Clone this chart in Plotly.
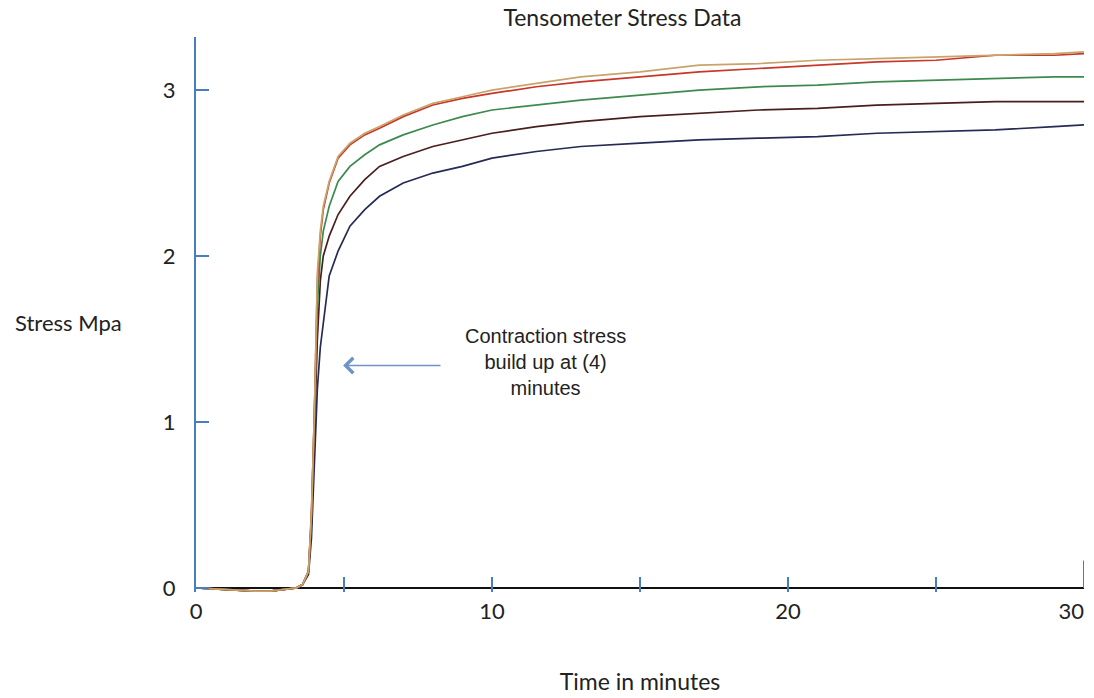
import plotly.graph_objects as go

# Time in minutes (sample points)
time_min = [0, 1, 2, 2.5, 3, 3.4, 3.6, 3.8, 3.9, 4.0, 4.1, 4.2, 4.3, 4.5, 4.8, 5.2,
            5.7, 6.2, 7, 8, 9, 10, 11.5, 13, 15, 17, 19, 21, 23, 25, 27, 29, 30]

stress_tan = [0.0, -0.01, -0.02, -0.02, -0.01, 0.0, 0.02, 0.1, 0.45, 1.05, 1.9, 2.15, 2.3,
              2.45, 2.6, 2.68, 2.74, 2.78, 2.85, 2.92, 2.96, 3.0, 3.04, 3.08, 3.11, 3.15,
              3.16, 3.18, 3.19, 3.20, 3.21, 3.22, 3.23]
stress_red = [0.0, -0.01, -0.02, -0.02, -0.01, 0.0, 0.02, 0.1, 0.45, 1.05, 1.85, 2.12, 2.28,
              2.44, 2.59, 2.67, 2.73, 2.77, 2.84, 2.91, 2.95, 2.98, 3.02, 3.05, 3.08, 3.11,
              3.13, 3.15, 3.17, 3.18, 3.21, 3.21, 3.22]
stress_green = [0.0, -0.01, -0.02, -0.02, -0.01, 0.0, 0.02, 0.1, 0.42, 1.0, 1.7, 2.0, 2.15,
                2.3, 2.45, 2.54, 2.61, 2.67, 2.73, 2.79, 2.84, 2.88, 2.91, 2.94, 2.97, 3.0,
                3.02, 3.03, 3.05, 3.06, 3.07, 3.08, 3.08]
stress_maroon = [0.0, -0.01, -0.02, -0.02, -0.01, 0.0, 0.02, 0.1, 0.4, 0.95, 1.5, 1.85, 2.0,
                 2.12, 2.25, 2.36, 2.46, 2.54, 2.6, 2.66, 2.70, 2.74, 2.78, 2.81, 2.84, 2.86,
                 2.88, 2.89, 2.91, 2.92, 2.93, 2.93, 2.93]
stress_navy = [0.0, -0.01, -0.02, -0.02, -0.01, 0.0, 0.02, 0.08, 0.3, 0.8, 1.2, 1.45, 1.6,
               1.88, 2.03, 2.18, 2.28, 2.36, 2.44, 2.50, 2.54, 2.59, 2.63, 2.66, 2.68, 2.70,
               2.71, 2.72, 2.74, 2.75, 2.76, 2.78, 2.79]

series = [
    ("Sample 5", stress_navy, "#262a55"),
    ("Sample 4", stress_maroon, "#4a1e1e"),
    ("Sample 3", stress_green, "#3d8a4e"),
    ("Sample 2", stress_red, "#c8372a"),
    ("Sample 1", stress_tan, "#c9a46a"),
]

x_tickvals = [0, 10, 20, 30]
y_tickvals = [0, 1, 2, 3]

fig = go.Figure()
for name, vals, color in series:
    fig.add_trace(go.Scatter(x=time_min, y=vals, mode="lines", name=name,
                             line=dict(color=color, width=1.7)))

# invisible trace so the overlay axis (used for the last tick label) is drawn
fig.add_trace(go.Scatter(x=time_min, y=stress_tan, mode="lines", xaxis="x2",
                         line=dict(width=0, color="rgba(0,0,0,0)"), hoverinfo="skip",
                         showlegend=False))

fig.update_layout(
    width=1094, height=698,
    margin=dict(l=196, r=10, t=37, b=106, autoexpand=False),
    paper_bgcolor="white", plot_bgcolor="white",
    showlegend=False,
    font=dict(family="Lato, Open Sans, sans-serif", color="#222222"),
    title=dict(text="Tensometer Stress Data", x=0.569, xanchor="center",
               y=0.975, yanchor="middle", font=dict(size=23, color="#222222")),
    xaxis2=dict(
        range=[0, 30], overlaying="x", anchor="y", side="bottom",
        tickvals=[x_tickvals[-1]], ticktext=[str(x_tickvals[-1])],
        showgrid=False, zeroline=False, showline=False, automargin=False,
        ticks="", ticklabelposition="outside left",
        tickfont=dict(size=22, color="#222222"), ticklabelstandoff=4,
    ),
)

fig.update_xaxes(
    selector=dict(anchor="y", overlaying=None),
)
fig.layout.xaxis.update(
    range=[0, 30], tickvals=x_tickvals,
    ticktext=[str(v) for v in x_tickvals[:-1]] + [""],
    showgrid=False, zeroline=False,
    showline=False, automargin=False,
    ticks="inside", ticklen=15, tickwidth=1.5, tickcolor="#4a7ebb",
    minor=dict(dtick=5, tick0=0, ticks="inside", ticklen=15, tickwidth=1.5,
               tickcolor="#4a7ebb", showgrid=False),
    tickfont=dict(size=22, color="#222222"),
    ticklabelstandoff=4,
    title=dict(text="Time in minutes", font=dict(size=23, color="#222222"), standoff=50),
)
fig.update_yaxes(
    range=[-0.025, 3.32], tickvals=y_tickvals, ticktext=[str(v) for v in y_tickvals],
    showgrid=False, zeroline=True, zerolinecolor="#111111", zerolinewidth=2,
    showline=True, linecolor="#4a7ebb", linewidth=2, automargin=False,
    ticks="inside", ticklen=13, tickwidth=1.5, tickcolor="#4a7ebb",
    tickfont=dict(size=22, color="#222222"),
    ticklabelstandoff=14,
)

# taller end tick at x = 30
fig.add_shape(type="line", x0=30, x1=30, y0=0, y1=0.165, xref="x", yref="y",
              line=dict(color="#4a7ebb", width=2))

# Y-axis title placed horizontally
fig.add_annotation(text="Stress Mpa", xref="paper", yref="paper",
                   x=-0.081, y=0.485, xanchor="right", yanchor="middle",
                   showarrow=False, font=dict(size=22, color="#222222"))

# Arrow annotation
fig.add_annotation(x=4.97, y=1.34, ax=8.31, ay=1.34, xref="x", yref="y",
                   axref="x", ayref="y", text="", showarrow=True,
                   arrowhead=4, arrowsize=2.0, arrowwidth=1.5, arrowcolor="#6f93c9")
fig.add_annotation(x=11.8, y=1.36, xref="x", yref="y",
                   text="Contraction stress<br>build up at (4)<br>minutes",
                   showarrow=False, align="center",
                   font=dict(size=20, color="#222222",
                             family="Liberation Sans Narrow, Arial Narrow, Liberation Sans, sans-serif"))

fig.write_html("out.html", config={"displayModeBar": False},
               post_script="document.body.style.margin='0px';")
